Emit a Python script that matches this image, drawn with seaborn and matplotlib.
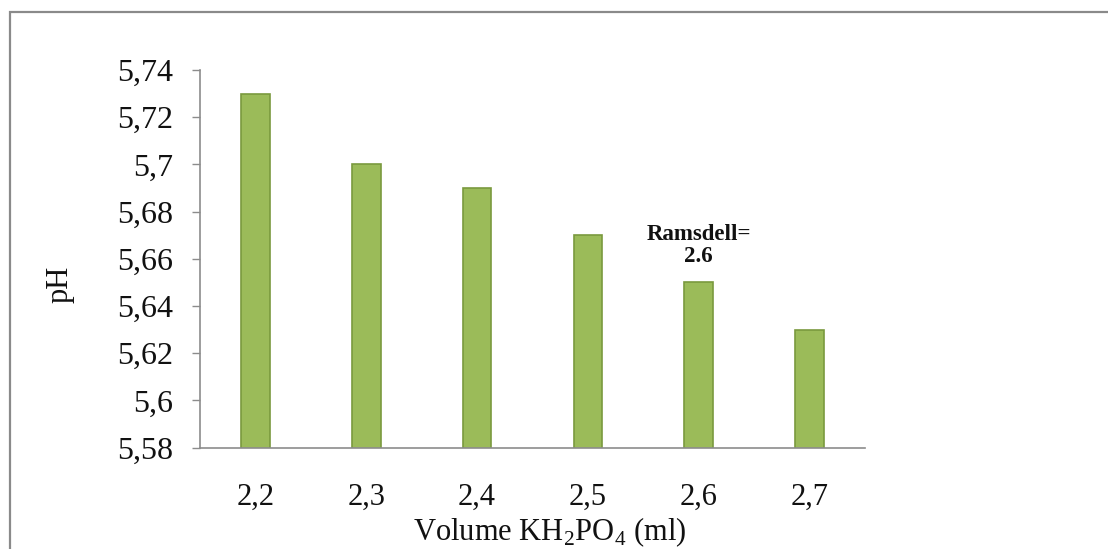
import matplotlib
matplotlib.use("Agg")
import matplotlib.pyplot as plt
import seaborn as sns
import pandas as pd
from matplotlib.patches import Rectangle

volumes = ["2,2", "2,3", "2,4", "2,5", "2,6", "2,7"]
ph_values = [5.73, 5.70, 5.69, 5.67, 5.65, 5.63]
y_ticks = [5.58, 5.60, 5.62, 5.64, 5.66, 5.68, 5.70, 5.72, 5.74]
y_tick_labels = ["5,58", "5,6", "5,62", "5,64", "5,66", "5,68", "5,7", "5,72", "5,74"]
annot_text = "Ramsdell=\n2.6"
annot_index = 4

sns.set_theme(style="white")
plt.rcParams['font.family'] = ['Liberation Serif', 'DejaVu Serif']
plt.rcParams['mathtext.fontset'] = 'custom'
plt.rcParams['mathtext.rm'] = 'Liberation Serif'

df = pd.DataFrame({"Volume": volumes, "pH": ph_values})

fig = plt.figure(figsize=(11.08, 5.49), dpi=100)
ax = fig.add_axes([200/1108, 1-447.7/549, 665/1108, (447.7-70)/549])

sns.barplot(data=df, x="Volume", y="pH", ax=ax, color="#9BBB59",
            saturation=1, width=0.26, edgecolor="#7A9A3E", linewidth=1.2)

ax.set_ylim(5.58, 5.74)
ax.set_xlim(-0.5, len(volumes) - 0.5)
ax.set_yticks(y_ticks)
ax.set_yticklabels(y_tick_labels)

for side in ["top", "right"]:
    ax.spines[side].set_visible(False)
for side in ["left", "bottom"]:
    ax.spines[side].set_color("#8C8C8C")
    ax.spines[side].set_linewidth(1.2)

ax.tick_params(axis="y", which="major", left=True, length=5.5, width=1.0,
               color="#8C8C8C", labelsize=23, pad=14, labelcolor="#111111")
ax.tick_params(axis="x", which="major", bottom=False, labelsize=22, pad=19.5,
               labelcolor="#111111")

ax.set_ylabel("pH", fontsize=22, color="#111111", va="center")
ax.yaxis.set_label_coords((60 - 200) / 665, (447.7 - 284) / 377.7)
ax.set_xlabel(r"Volume KH$_\mathrm{2}$PO$_\mathrm{4}$ (ml)", fontsize=22,
              color="#111111", va="center")
ax.xaxis.set_label_coords((550 - 200) / 665, (447.7 - 532) / 377.7)

ax.annotate(annot_text, xy=(annot_index, ph_values[annot_index]),
            xytext=(0, 11), textcoords="offset points", ha="center", va="bottom",
            fontsize=16.5, fontweight="bold", color="#111111", linespacing=1.1)

fig.patches.append(Rectangle((10/1108, -0.1), 1.2, 1 - 12/549 + 0.1,
                             transform=fig.transFigure, fill=False,
                             edgecolor="#8A8A8A", linewidth=1.6, figure=fig))

fig.savefig("out.png", dpi=100, facecolor="white")
